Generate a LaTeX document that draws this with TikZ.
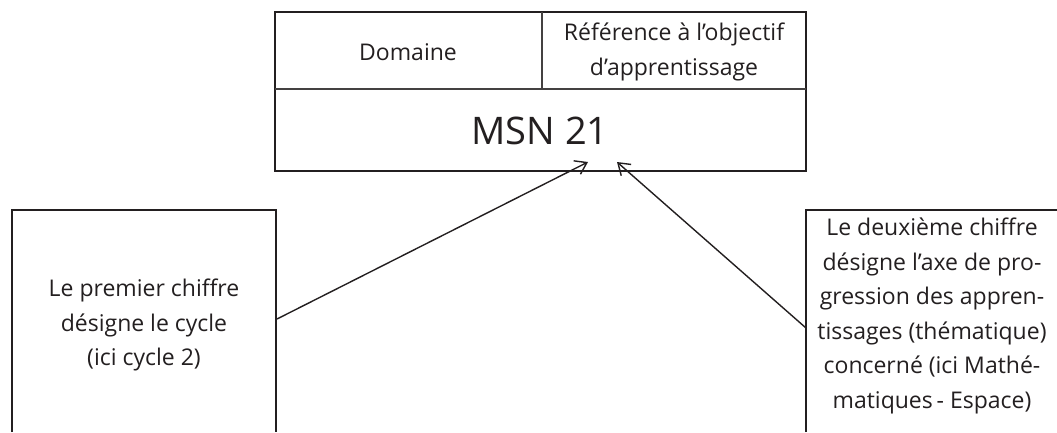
\documentclass[tikz,border=0pt]{standalone}
\usepackage{fontspec}
\setmainfont{Open Sans}
\usetikzlibrary{arrows.meta}
\definecolor{ink}{HTML}{231F20}
\tikzset{
  frame/.style={draw=ink, line width=2pt},
  thin/.style={draw=ink!85, line width=1.5pt},
  lbl/.style={text=ink, align=center, inner sep=0pt, font=\fontsize{23}{34.5}\selectfont},
  big/.style={text=ink, inner sep=0pt, font=\fontsize{38}{40}\selectfont},
  pointer/.style={draw=ink, line width=1.4pt, -{Straight Barb[length=11pt,width=15pt,line width=1.4pt]}}
}
\begin{document}
\begin{tikzpicture}[x=1pt,y=-1pt]
\useasboundingbox (0,0) rectangle (1057,432);
% top table
\draw[frame] (275,12) rectangle (806,171);
\draw[thin] (275,89) -- (806,89);
\draw[thin] (542,12) -- (542,89);
\node[lbl] (dom) at (408,52) {Domaine};
\node[lbl] (ref) at (674,52) {Référence à l’objectif\\d’apprentissage};
\node[big] (code) at (540,131) {MSN 21};
% left box (open at the bottom)
\draw[frame] (12,432) -- (12,210) -- (276,210) -- (276,432);
\node[lbl] (left) at (144,325) {Le premier chiffre\\désigne le cycle\\(ici cycle 2)};
% right box (open at bottom and right)
\draw[frame] (806,432) -- (806,210) -- (1057,210);
\node[lbl] (right) at (932,316) {Le deuxième chiffre\\désigne l’axe de pro-\\gression des appren-\\tissages (thématique)\\concerné (ici Mathé-\\matiques\,- Espace)};
% connectors
\coordinate (s1) at (277,319);
\coordinate (t1) at (588,162);
\coordinate (s2) at (806,328);
\coordinate (t2) at (617,162);
\draw[pointer] (s1) -- (t1);
\draw[pointer] (s2) -- (t2);
\end{tikzpicture}
\end{document}
